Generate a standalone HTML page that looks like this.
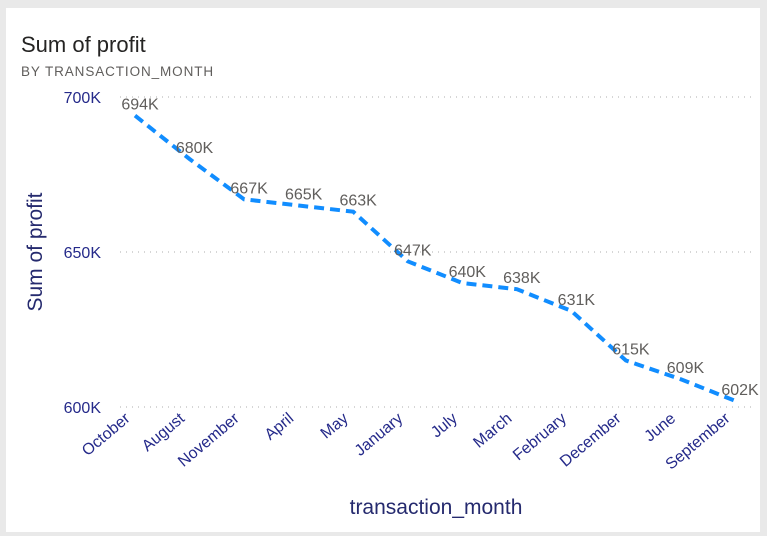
<!DOCTYPE html>
<html><head><meta charset="utf-8"><style>
body{margin:0;width:767px;height:536px;background:#e9e9e9;overflow:hidden;font-family:"Liberation Sans",sans-serif}
#card{position:absolute;left:6px;top:8px;width:754px;height:524px;background:#fff}
</style></head><body>
<div id="card"></div>
<svg width="767" height="536" style="position:absolute;left:0;top:0">
<text x="21" y="52" font-size="22" fill="#252423">Sum of profit</text>
<text x="21" y="76" font-size="13.5" fill="#605e5c" letter-spacing="0.9">BY TRANSACTION_MONTH</text>
<g id="grid"></g><g id="yt"></g><g id="xt"></g>
<path id="line" fill="none" stroke="#118dff" stroke-width="4" stroke-dasharray="10,6"/>
<g id="lbl"></g>
<text transform="translate(42,252) rotate(-90)" text-anchor="middle" font-size="21" fill="#252a6e">Sum of profit</text>
<text x="436" y="514" text-anchor="middle" font-size="21" fill="#252a6e">transaction_month</text>
</svg>
<script>
const months=["October","August","November","April","May","January","July","March","February","December","June","September"];
const profit=[694,680,667,665,663,647,640,638,631,615,609,602];
const yTicks=[600,650,700];
const NS="http://www.w3.org/2000/svg";
const x=i=>135+i*(600/11);
const y=v=>407-(v-600)*3.1;
function mk(t,a,p){const e=document.createElementNS(NS,t);for(const k in a)e.setAttribute(k,a[k]);document.getElementById(p).appendChild(e);return e;}
yTicks.forEach(v=>{
 const g=mk("line",{x1:120,x2:752,y1:y(v),y2:y(v),stroke:"#c8c8c8","stroke-dasharray":"1,5","stroke-width":1.5},"grid");
 
 
 const t=mk("text",{x:101,y:y(v)+6,"text-anchor":"end","font-size":16,fill:"#252a8a"},"yt");t.textContent=v+"K";
 
 
});
months.forEach((m,i)=>{
 const t=mk("text",{transform:`translate(${x(i)-4},${420}) rotate(-40)`,"text-anchor":"end","font-size":16,fill:"#252a8a"},"xt");t.textContent=m;
 
 
});
document.getElementById("line").setAttribute("d",profit.map((v,i)=>(i?"L":"M")+x(i)+","+y(v)).join(""));
profit.forEach((v,i)=>{
 const t=mk("text",{x:x(i)+5,y:y(v)-6,"text-anchor":"middle","font-size":16,fill:"#605e5c"},"lbl");t.textContent=v+"K";
 
 
});
</script>
</body></html>
